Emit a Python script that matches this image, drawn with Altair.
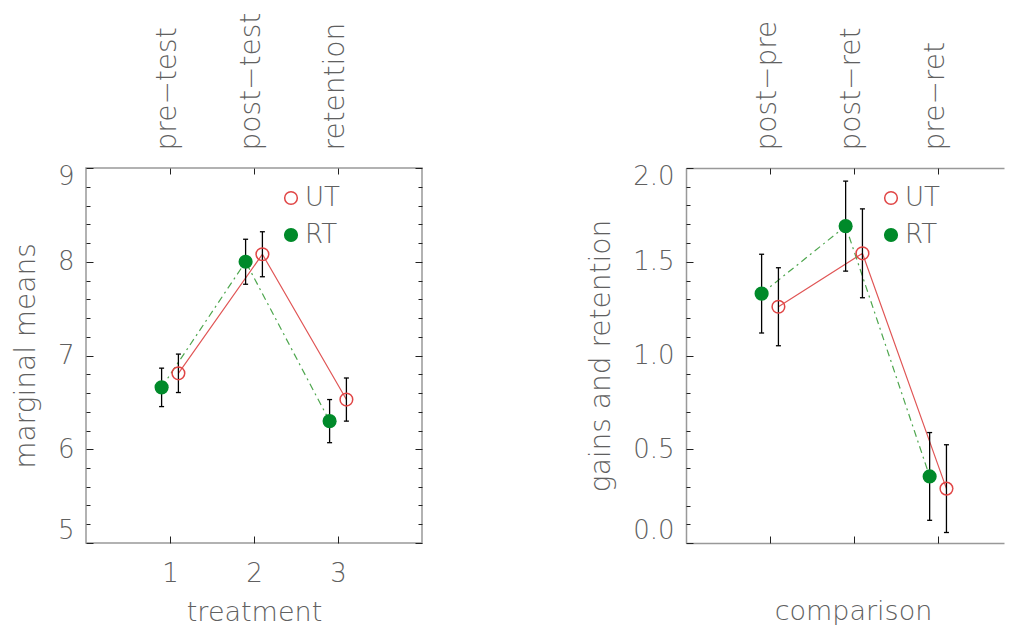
import json
import altair as alt
import pandas as pd

# ---------------- data ----------------
groups = ["UT", "RT"]

treat_ticks = [1, 2, 3]
treat_labels = ["pre−test", "post−test", "retention"]
ut_means = [6.81, 8.08, 6.53]
ut_means_err = [0.205, 0.24, 0.23]
rt_means = [6.66, 8.00, 6.30]
rt_means_err = [0.205, 0.24, 0.23]

comp_ticks = [1, 2, 3]
comp_labels = ["post−pre", "post−ret", "pre−ret"]
ut_gain = [1.26, 1.545, 0.29]
ut_gain_err = [0.208, 0.237, 0.234]
rt_gain = [1.33, 1.69, 0.355]
rt_gain_err = [0.21, 0.24, 0.234]

left_y_labels = [5, 6, 7, 8, 9]
left_y_ticks = [5.0, 5.2, 5.4, 5.6, 5.8, 6.0, 6.2, 6.4, 6.6, 6.8, 7.0,
                7.2, 7.4, 7.6, 7.8, 8.0, 8.2, 8.4, 8.6, 8.8, 9.0]
right_y_labels = [0.0, 0.5, 1.0, 1.5, 2.0]
right_y_ticks = [0.0, 0.1, 0.2, 0.3, 0.4, 0.5, 0.6, 0.7, 0.8, 0.9, 1.0,
                 1.1, 1.2, 1.3, 1.4, 1.5, 1.6, 1.7, 1.8, 1.9, 2.0]

left_x_domain = [0, 4]
right_x_domain = [0, 3.785]

dodge = {"UT": 0.1, "RT": -0.1}

FONT = "DejaVu Sans"
TXT = "#606060"
TICK = "#222222"
FRAME = "#999999"
RED = "#e04545"
RED_LINE = "#e05555"
GREEN = "#008a2a"
GREEN_LINE = "#4ea64e"
H = 375


def make_df(ticks, ut, ute, rt, rte):
    rows = []
    for g, vals, errs in (("UT", ut, ute), ("RT", rt, rte)):
        for t, v, e in zip(ticks, vals, errs):
            rows.append(dict(group=g, x=t + dodge[g], y=v, lo=v - e, hi=v + e))
    return pd.DataFrame(rows)


def tick_axis(orient, values, major_test, offset):
    return alt.Axis(orient=orient, offset=offset, values=values, labels=False,
                    domain=False, grid=False, title=None, tickColor=TICK,
                    tickWidth=1,
                    tickSize={"condition": {"test": major_test, "value": 7}, "value": 4})


def panel(df, ticks, top_labels, xdom, W, ydom, ylabels, yticks, major_test, yfmt,
          ytitle, xtitle, bottom_labels, xtitle_pad, ytitle_pad, framed, title_x):
    xs = alt.Scale(domain=xdom, nice=False, zero=False)
    ys = alt.Scale(domain=ydom, nice=False, zero=False)
    top_expr = json.dumps(top_labels, ensure_ascii=False) + "[round(datum.value) - 1]"
    dom = dict(domain=not framed, domainColor=FRAME, domainWidth=1.5)

    bottom_kw = dict(orient="bottom", values=ticks, ticks=False, tickSize=0,
                     grid=False, labels=bottom_labels,
                     labelFontSize=26, labelPadding=17, labelAngle=0,
                     title=xtitle, titleFontSize=27, titlePadding=xtitle_pad, **dom)
    if title_x is not None:
        bottom_kw["titleX"] = title_x
    ax_bottom = alt.Axis(**bottom_kw)
    ax_top = alt.Axis(orient="top", values=ticks, ticks=False, tickSize=0,
                      grid=False, labelAngle=270, labelAlign="left",
                      labelBaseline="middle", labelPadding=18, labelFontSize=28,
                      labelOffset=-3, labelExpr=top_expr, title=None, **dom)
    ax_xt_bottom = alt.Axis(orient="top", offset=-H, values=ticks, labels=False,
                            domain=False, grid=False, title=None, tickColor=TICK,
                            tickWidth=1, tickSize=7)
    ax_xt_top = alt.Axis(orient="bottom", offset=-H, values=ticks, labels=False,
                         domain=False, grid=False, title=None, tickColor=TICK,
                         tickWidth=1, tickSize=6)

    ax_left = alt.Axis(orient="left", values=ylabels, ticks=False, tickSize=0,
                       grid=False, labelFlush=True, format=yfmt,
                       labelFontSize=26, labelPadding=12,
                       labelOffset={"condition": {"test": f"datum.value == {ydom[1]}",
                                                  "value": -5}, "value": 0},
                       title=ytitle, titleFontSize=28, titlePadding=ytitle_pad, **dom)
    ax_yt_left = tick_axis("right", yticks, major_test, -W)
    ax_yt_right = tick_axis("left", yticks, major_test, -W) if framed else None

    base = alt.Chart(df)

    ut_line = base.transform_filter(alt.datum.group == "UT").mark_line(
        color=RED_LINE, strokeWidth=1.2).encode(
        x=alt.X("x:Q", scale=xs, axis=ax_bottom),
        y=alt.Y("y:Q", scale=ys, axis=ax_left))
    rt_line = base.transform_filter(alt.datum.group == "RT").mark_line(
        color=GREEN_LINE, strokeWidth=1.2, strokeDash=[7, 4, 2, 4]).encode(
        x=alt.X("x:Q", scale=xs, axis=ax_top),
        y=alt.Y("y:Q", scale=ys, axis=ax_yt_left))
    err = base.mark_rule(color="black", strokeWidth=1.3).encode(
        x=alt.X("x:Q", scale=xs, axis=ax_xt_bottom),
        y=alt.Y("lo:Q", scale=ys, axis=ax_yt_right),
        y2="hi:Q")
    cap_lo = base.mark_tick(orient="horizontal", color="black", size=5,
                            thickness=1.3, opacity=1).encode(
        x=alt.X("x:Q", scale=xs, axis=ax_xt_top),
        y=alt.Y("lo:Q", scale=ys, axis=None))
    cap_hi = base.mark_tick(orient="horizontal", color="black", size=5,
                            thickness=1.3, opacity=1).encode(
        x=alt.X("x:Q", scale=xs, axis=None),
        y=alt.Y("hi:Q", scale=ys, axis=None))

    leg = alt.Legend(orient="none", legendX=192, legendY=17, title=None,
                     labelFontSize=26, labelFont=FONT, labelColor=TXT,
                     symbolSize=160, symbolStrokeWidth=1.5, symbolType="circle",
                     labelOffset=1, rowPadding=11, padding=0)
    pts = base.mark_point(shape="circle", size=160, strokeWidth=1.5,
                          opacity=1).encode(
        x=alt.X("x:Q", scale=xs, axis=None),
        y=alt.Y("y:Q", scale=ys, axis=None),
        fill=alt.Fill("group:N", scale=alt.Scale(domain=groups,
                                                 range=["transparent", GREEN]),
                      legend=leg),
        stroke=alt.Stroke("group:N", scale=alt.Scale(domain=groups,
                                                     range=[RED, GREEN]),
                          legend=leg))

    layer = alt.layer(ut_line, rt_line, err, cap_lo, cap_hi, pts).resolve_axis(
        x="independent", y="independent")
    if framed:
        return layer.properties(width=W, height=H)
    return layer.properties(width=W, height=H,
                            view=alt.ViewBackground(stroke="transparent"))


left_df = make_df(treat_ticks, ut_means, ut_means_err, rt_means, rt_means_err)
right_df = make_df(comp_ticks, ut_gain, ut_gain_err, rt_gain, rt_gain_err)

left = panel(left_df, treat_ticks, treat_labels, left_x_domain, 336, [5, 9],
             left_y_labels, left_y_ticks,
             "abs(datum.value - round(datum.value)) < 0.001", "d",
             "marginal means", "treatment", True, 13, 17, True, None)
right = panel(right_df, comp_ticks, comp_labels, right_x_domain, 318, [0, 2],
              right_y_labels, right_y_ticks,
              "abs(datum.value * 2 - round(datum.value * 2)) < 0.001", ".1f",
              "gains and retention", "comparison", False, 55, 17, False, 167)

chart = alt.hconcat(left, right, spacing=264, bounds="flush").resolve_legend(
    fill="independent", stroke="independent").properties(
    padding={"left": 3, "top": 3, "right": 0, "bottom": 0}
).configure_view(stroke=FRAME, strokeWidth=1.5).configure_axis(
    labelFont=FONT, titleFont=FONT, labelColor=TXT, titleColor=TXT,
    labelFontWeight=300, titleFontWeight=300
).configure_legend(labelFontWeight=300)

chart.save("out.html", embed_options={"renderer": "svg", "actions": False})
